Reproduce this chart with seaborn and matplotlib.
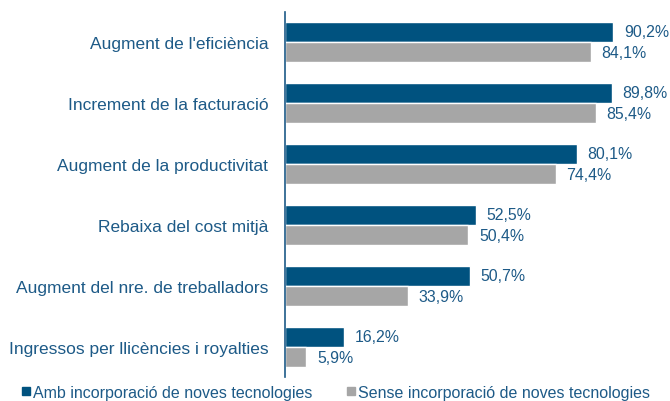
import numpy as np
import pandas as pd
import matplotlib
matplotlib.use("Agg")
import matplotlib.pyplot as plt
import seaborn as sns
from matplotlib.lines import Line2D

categories = [
    "Augment de l'eficiència",
    "Increment de la facturació",
    "Augment de la productivitat",
    "Rebaixa del cost mitjà",
    "Augment del nre. de treballadors",
    "Ingressos per llicències i royalties",
]
series_names = [
    "Amb incorporació de noves tecnologies",
    "Sense incorporació de noves tecnologies",
]
amb_values = [90.2, 89.8, 80.1, 52.5, 50.7, 16.2]
sense_values = [84.1, 85.4, 74.4, 50.4, 33.9, 5.9]

blue = "#00527f"
gray = "#a6a6a6"
text_col = "#1d5a87"

df = pd.DataFrame({
    "categoria": categories * 2,
    "serie": [series_names[0]] * len(categories) + [series_names[1]] * len(categories),
    "valor": amb_values + sense_values,
})

sns.set_theme(style="white")
plt.rcParams["font.family"] = ["Liberation Sans", "DejaVu Sans"]

fig = plt.figure(figsize=(6.7, 4.02), dpi=100)
ax = fig.add_axes([0.4254, 0.0585, 0.5433, 0.9104])

sns.barplot(data=df, y="categoria", x="valor", hue="serie", order=categories,
            hue_order=series_names, palette=[blue, gray], width=0.66, gap=0,
            orient="h", saturation=1, legend=False, ax=ax)

for cont in ax.containers:
    labels = [f"{v:.1f}%".replace(".", ",") for v in cont.datavalues]
    ax.bar_label(cont, labels=labels, padding=7.5, fontsize=11.4, color=text_col)

ax.set_xlim(0, 100)
ax.set_ylim(len(categories) - 0.5, -0.5)
ax.set_xlabel("")
ax.set_ylabel("")
ax.set_xticks([])
ax.tick_params(axis="y", length=0, pad=12, labelsize=12.5, labelcolor=text_col)
for s in ["top", "right", "bottom"]:
    ax.spines[s].set_visible(False)
ax.spines["left"].set_color(text_col)
ax.spines["left"].set_linewidth(1.2)

handles = [Line2D([], [], marker="s", linestyle="", color=c, markersize=6)
           for c in [blue, gray]]
fig.legend(handles, series_names, loc="center", bbox_to_anchor=(0.5, 0.022),
           ncol=2, frameon=False, fontsize=11.5, handletextpad=0.05,
           columnspacing=2.0, handlelength=0.8, labelcolor=text_col)

fig.savefig("out.png", dpi=100)
